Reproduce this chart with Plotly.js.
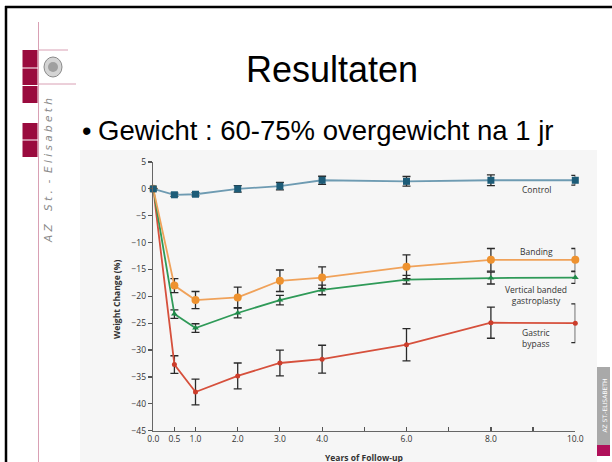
<!DOCTYPE html>
<html>
<head>
<meta charset="utf-8">
<script src="https://cdn.plot.ly/plotly-3.0.1.min.js"></script>
<style>html,body{margin:0;padding:0;background:#fff;}#chart{width:612px;height:462px;}</style>
</head>
<body>
<div id="chart"></div>
<script>
// ---- data ----
const years = [0, 0.5, 1, 2, 3, 4, 6, 8, 10];
const controlVals = [0, -1.1, -1.0, 0.0, 0.5, 1.6, 1.4, 1.6, 1.6];
const controlErr  = [0, 0.3, 0.3, 0.6, 0.7, 0.75, 0.9, 1.0, 0.9];
const bandingVals = [0, -18.0, -20.7, -20.2, -17.1, -16.5, -14.5, -13.2, -13.2];
const bandingErr  = [0, 1.3, 1.6, 1.9, 2.0, 2.0, 2.2, 2.1, 2.1];
const vbgVals = [0, -23.3, -25.9, -23.1, -20.7, -18.8, -16.9, -16.6, -16.5];
const vbgErr  = [0, 0.8, 0.8, 0.9, 0.9, 0.9, 0.8, 1.1, 1.1];
const bypassVals = [0, -32.7, -37.8, -34.8, -32.4, -31.7, -29.0, -24.9, -25.0];
const bypassErr  = [0, 1.65, 2.4, 2.4, 2.4, 2.6, 3.0, 2.9, 3.6];
const xTickVals = [0, 0.5, 1, 2, 3, 4, 5, 6, 7, 8, 9, 10];
const xTickText = ['0.0','0.5','1.0','2.0','3.0','4.0','','6.0','','8.0','','10.0'];
const yTickVals = [5, 0, -5, -10, -15, -20, -25, -30, -35, -40, -45];
const seriesNames = ['Control', 'Banding', 'Vertical banded<br>gastroplasty', 'Gastric<br>bypass'];
const slideTitle = 'Resultaten';
const bulletText = 'Gewicht : 60-75% overgewicht na 1 jr';

const W = 612, H = 462;
const px = v => v / W;
const py = v => 1 - v / H;
const errStyle = {type: 'data', visible: true, color: '#2a2a2a', thickness: 1.3, width: 4};

function series(vals, err, lineColor, markerColor, symbol, size) {
  return {
    x: years, y: vals, type: 'scatter', mode: 'lines+markers', cliponaxis: false,
    line: {color: lineColor, width: 1.8},
    marker: {color: markerColor, symbol: symbol, size: size},
    error_y: Object.assign({array: err}, errStyle),
    showlegend: false, hoverinfo: 'skip'
  };
}

const traces = [
  series(bypassVals, bypassErr, '#d6503c', '#cc3d2b', 'circle', 5),
  series(vbgVals, vbgErr, '#2f9a58', '#1f8a48', 'triangle-up', 6),
  series(bandingVals, bandingErr, '#f0a25a', '#ee922f', 'circle', 8),
  series(controlVals, controlErr, '#6e9bb2', '#1d5c78', 'square', 7)
];

const chartFont = 'Open Sans, DejaVu Sans, sans-serif';
const labelFont = {family: chartFont, size: 8.5, color: '#333'};

const annotations = [
  {x: px(332), y: py(69), xref: 'paper', yref: 'paper', text: slideTitle, showarrow: false,
   font: {family: 'Liberation Sans, Arial, sans-serif', size: 36, color: '#000'}, xanchor: 'center', yanchor: 'middle'},
  {x: px(86), y: py(131), xref: 'paper', yref: 'paper', text: '•', showarrow: false,
   font: {family: 'Liberation Sans, Arial, sans-serif', size: 27, color: '#000'}, xanchor: 'center', yanchor: 'middle'},
  {x: px(96), y: py(130), xref: 'paper', yref: 'paper', text: bulletText, showarrow: false,
   font: {family: 'Liberation Sans, Arial, sans-serif', size: 27.5, color: '#000'}, xanchor: 'left', yanchor: 'middle'},
  {x: px(48), y: py(171), xref: 'paper', yref: 'paper', text: 'A Z    S t .  -  E l i s a b e t h', showarrow: false,
   textangle: -90, font: {family: 'DejaVu Sans, sans-serif', size: 10.5, color: '#8a8a8a', style: 'italic'}, xanchor: 'center', yanchor: 'middle'},
  {x: px(603.5), y: py(406), xref: 'paper', yref: 'paper', text: 'AZ ST.-ELISABETH', showarrow: false,
   textangle: -90, font: {family: 'DejaVu Sans, sans-serif', size: 6, color: '#fff'}, xanchor: 'center', yanchor: 'middle'},
  // axis titles
  {x: px(116), y: py(300), xref: 'paper', yref: 'paper', text: '<b>Weight Change (%)</b>', showarrow: false,
   textangle: -90, font: {family: chartFont, size: 8.5, color: '#333'}, xanchor: 'center', yanchor: 'middle'},
  {x: px(364), y: py(457), xref: 'paper', yref: 'paper', text: '<b>Years of Follow-up</b>', showarrow: false,
   font: {family: chartFont, size: 8.5, color: '#333'}, xanchor: 'center', yanchor: 'middle'},
  // series labels
  {x: px(536), y: py(190), xref: 'paper', yref: 'paper', text: seriesNames[0], showarrow: false, font: labelFont, xanchor: 'center', yanchor: 'middle'},
  {x: px(536), y: py(252), xref: 'paper', yref: 'paper', text: seriesNames[1], showarrow: false, font: labelFont, xanchor: 'center', yanchor: 'middle'},
  {x: px(536), y: py(295), xref: 'paper', yref: 'paper', text: seriesNames[2], showarrow: false, font: labelFont, xanchor: 'center', yanchor: 'middle'},
  {x: px(536), y: py(338), xref: 'paper', yref: 'paper', text: seriesNames[3], showarrow: false, font: labelFont, xanchor: 'center', yanchor: 'middle'}
];

const crimson = '#9a0b3e';
const pink = '#d9a0b4';
function rect(x0, y0, x1, y1, fill, layer) {
  return {type: 'rect', xref: 'paper', yref: 'paper', x0: px(x0), x1: px(x1), y0: py(y1), y1: py(y0),
          fillcolor: fill, line: {width: 0}, layer: layer || 'below'};
}
function line(x0, y0, x1, y1, color, w) {
  return {type: 'line', xref: 'paper', yref: 'paper', x0: px(x0), x1: px(x1), y0: py(y0), y1: py(y1),
          line: {color: color, width: w}, layer: 'below'};
}

const shapes = [
  rect(80, 150, 597, 462, '#f6f6f6'),
  // slide border
  line(5, 7, 612, 7, '#000', 2.5),
  line(6, 6, 6, 462, '#000', 2.5),
  // logo
  rect(22.5, 50, 37.5, 67.5, crimson),
  rect(22.5, 68.5, 37.5, 85, crimson),
  rect(22.5, 86, 37.5, 103, crimson),
  rect(22.5, 123, 37.5, 139.5, crimson),
  rect(22.5, 140.5, 37.5, 157, crimson),
  line(38.5, 22, 38.5, 462, pink, 1),
  line(38.5, 50, 68, 50, pink, 1),
  line(38.5, 84, 76, 84, pink, 1),
  {type: 'circle', xref: 'paper', yref: 'paper', x0: px(44), x1: px(62), y0: py(77), y1: py(57),
   fillcolor: '#d4d4d4', line: {color: '#8a8a8a', width: 1}, layer: 'below'},
  {type: 'circle', xref: 'paper', yref: 'paper', x0: px(48), x1: px(58), y0: py(72), y1: py(62),
   fillcolor: '#a0a0a0', line: {width: 0}, layer: 'below'},
  // right bottom tab
  rect(597, 367, 610, 445, '#a9a9a9'),
  rect(597, 445, 610, 456, '#b0105a')
];

const layout = {
  width: W, height: H,
  margin: {l: 0, r: 0, t: 0, b: 0},
  paper_bgcolor: '#ffffff', plot_bgcolor: 'rgba(0,0,0,0)',
  showlegend: false,
  xaxis: {
    domain: [153.3 / W, 575.3 / W], range: [0, 10], tickvals: xTickVals, ticktext: xTickText,
    ticks: 'inside', ticklen: 4, tickwidth: 1.2, tickcolor: '#555',
    showline: true, linecolor: '#666', linewidth: 1.5, showgrid: false, zeroline: false,
    tickfont: {family: chartFont, size: 8.5, color: '#333'}, automargin: false
  },
  yaxis: {
    domain: [(H - 430.7) / H, (H - 162) / H], range: [-45, 5], tickvals: yTickVals,
    ticks: 'outside', ticklen: 4, tickwidth: 1.2, tickcolor: '#555',
    showline: true, linecolor: '#666', linewidth: 1.5, showgrid: false, zeroline: false,
    tickfont: {family: chartFont, size: 8.5, color: '#333'}, automargin: false
  },
  annotations: annotations,
  shapes: shapes
};

Plotly.newPlot('chart', traces, layout, {displayModeBar: false, staticPlot: true});
</script>
</body>
</html>
